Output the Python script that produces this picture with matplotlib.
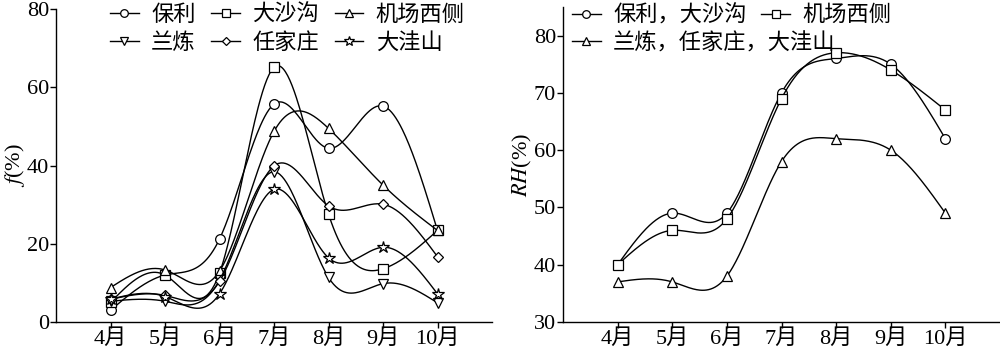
import numpy as np
import matplotlib
matplotlib.use("Agg")
import matplotlib.pyplot as plt

plt.rcParams['font.family'] = ['Liberation Serif', 'Noto Sans CJK SC']
plt.rcParams['mathtext.fontset'] = 'stix'

months = ['4月', '5月', '6月', '7月', '8月', '9月', '10月']

# Left panel: f(%)
f_names = ['保利', '大沙沟', '机场西侧', '兰炼', '任家庄', '大洼山']
f_baoli = [3.0, 12.0, 21.2, 55.7, 44.4, 55.2, 23.4]
f_dashagou = [5.0, 12.0, 12.5, 65.1, 27.6, 13.6, 23.4]
f_jichang = [8.8, 13.3, 13.0, 48.7, 49.5, 35.0, 23.4]
f_lanlian = [5.3, 5.3, 10.7, 38.4, 11.4, 9.8, 4.9]
f_renjiazhuang = [5.8, 6.8, 10.4, 39.9, 29.7, 30.1, 16.7]
f_dawashan = [5.8, 6.5, 7.2, 33.9, 16.4, 19.1, 7.2]
f_markers = ['o', 's', '^', 'v', 'D', '*']

# Right panel: RH(%)
rh_names = ['保利，大沙沟', '机场西侧', '兰炼，任家庄，大洼山']
rh_group1 = [40, 49, 49, 70, 76, 75, 62]
rh_group2 = [40, 46, 48, 69, 77, 74, 67]
rh_group3 = [37, 37, 38, 58, 62, 60, 49]
rh_markers = ['o', 's', '^']


def natural_spline(x, y, n=300):
    x = np.asarray(x, float)
    y = np.asarray(y, float)
    k = len(x)
    h = np.diff(x)
    A = np.zeros((k, k))
    b = np.zeros(k)
    A[0, 0] = 1
    A[-1, -1] = 1
    for i in range(1, k - 1):
        A[i, i - 1] = h[i - 1]
        A[i, i] = 2 * (h[i - 1] + h[i])
        A[i, i + 1] = h[i]
        b[i] = 3 * ((y[i + 1] - y[i]) / h[i] - (y[i] - y[i - 1]) / h[i - 1])
    c = np.linalg.solve(A, b)
    xs = np.linspace(x[0], x[-1], n)
    ys = np.empty_like(xs)
    for j, xv in enumerate(xs):
        i = min(np.searchsorted(x, xv, side='right') - 1, k - 2)
        dx = xv - x[i]
        bi = (y[i + 1] - y[i]) / h[i] - h[i] * (2 * c[i] + c[i + 1]) / 3
        di = (c[i + 1] - c[i]) / (3 * h[i])
        ys[j] = y[i] + bi * dx + c[i] * dx ** 2 + di * dx ** 3
    return xs, ys


x = np.arange(4, 11)

fig = plt.figure(figsize=(10, 3.54), dpi=100)
ax1 = fig.add_axes([0.056, 0.0904, 0.436, 0.884])
ax2 = fig.add_axes([0.563, 0.0904, 0.437, 0.890])

fs = 16
lfs = 16


def draw(ax, data, names, markers):
    handles = []
    for y, name, m in zip(data, names, markers):
        xs, ys = natural_spline(x, y)
        ax.plot(xs, ys, color='black', lw=1.0)
        ms = 9 if m == '*' else (5.5 if m == 'D' else 7)
        ax.plot(x, y, ls='none', marker=m, ms=ms, mfc='white', mec='black', mew=0.9)
        lms = 7 if m == '*' else (4.5 if m == 'D' else 5.5)
        h, = ax.plot([], [], color='black', lw=1.0, marker=m, ms=lms, mfc='white', mec='black', mew=0.9, label=name)
        handles.append(h)
    return handles


h1 = draw(ax1, [f_baoli, f_dashagou, f_jichang, f_lanlian, f_renjiazhuang, f_dawashan], f_names, f_markers)
h2 = draw(ax2, [rh_group1, rh_group2, rh_group3], rh_names, rh_markers)

for ax in (ax1, ax2):
    ax.set_xlim(3, 11)
    ax.set_xticks(x)
    ax.set_xticklabels(months)
    ax.spines['top'].set_visible(False)
    ax.spines['right'].set_visible(False)
    ax.tick_params(direction='out', length=4, width=1, labelsize=fs, pad=1)
    for s in ('left', 'bottom'):
        ax.spines[s].set_linewidth(1.0)

ax1.set_ylim(0, 80)
ax1.set_yticks([0, 20, 40, 60, 80])
ax1.set_ylabel('$f$(%)', fontsize=fs, labelpad=0)

ax2.set_ylim(30, 85)
ax2.set_yticks([30, 40, 50, 60, 70, 80])
ax2.set_ylabel('$RH$(%)', fontsize=fs, labelpad=0)

common = dict(frameon=False, fontsize=lfs, loc='upper left', handlelength=1.3,
              handletextpad=0.55, borderaxespad=0, borderpad=0, labelspacing=0.3)

order1 = [0, 3, 1, 4, 2, 5]
ax1.legend([h1[i] for i in order1], [f_names[i] for i in order1], ncol=3,
           bbox_to_anchor=(0.110, 1 - 5 / 354), bbox_transform=fig.transFigure,
           columnspacing=0.7, **common)

leg_a = ax2.legend([h2[0], h2[1]], [rh_names[0], rh_names[1]], ncol=2,
                   bbox_to_anchor=(0.572, 1 - 5 / 354), bbox_transform=fig.transFigure,
                   columnspacing=0.65, **common)
ax2.add_artist(leg_a)
ax2.legend([h2[2]], [rh_names[2]], ncol=1,
           bbox_to_anchor=(0.572, 1 - 33 / 354), bbox_transform=fig.transFigure,
           **common)

fig.savefig('out.png', dpi=100)
